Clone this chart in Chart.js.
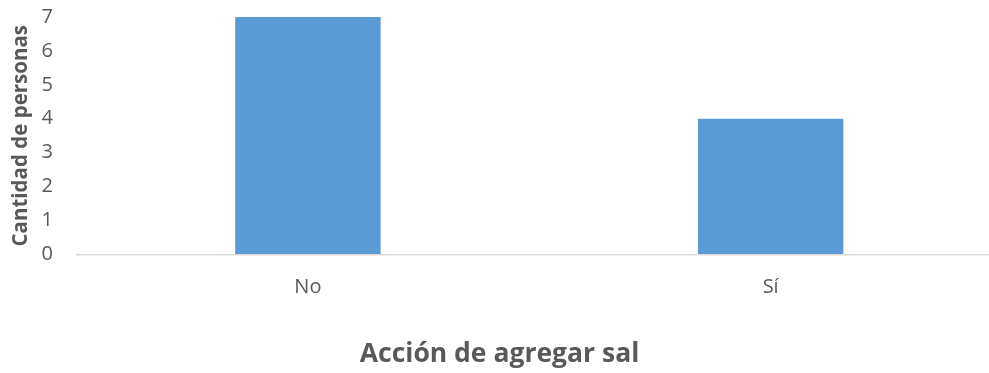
<!DOCTYPE html>
<html>
<head>
<meta charset="utf-8">
<script src="https://cdn.jsdelivr.net/npm/chart.js@4/dist/chart.umd.min.js"></script>
<style>
  html, body { margin: 0; padding: 0; background: #ffffff; }
  #wrap { width: 989px; height: 373px; }
</style>
</head>
<body>
<div id="wrap"><canvas id="chart" width="989" height="373"></canvas></div>
<script>
// Categories and counts
const categories = ['No', 'Sí'];
const personas = [7, 4];
const yTicks = [0, 1, 2, 3, 4, 5, 6, 7];

const FONT = "'Open Sans', 'Liberation Sans', sans-serif";
const GREY = '#595959';
const PLOT_RIGHT = 1002; // the plot area runs past the canvas edge

// Stretch the category axis (and the plot area) beyond the right edge of the canvas
const extendPlotRight = {
  id: 'extendPlotRight',
  afterLayout(chart) {
    const x = chart.scales.x;
    x.right = PLOT_RIGHT;
    x.width = x.right - x.left;
    x.configure();
    chart.chartArea.right = PLOT_RIGHT;
    chart.chartArea.width = chart.chartArea.right - chart.chartArea.left;
  }
};

new Chart(document.getElementById('chart'), {
  type: 'bar',
  data: {
    labels: categories,
    datasets: [{
      data: personas,
      backgroundColor: '#5b9bd5',
      borderWidth: 0,
      categoryPercentage: 0.3143,
      barPercentage: 1.0
    }]
  },
  plugins: [extendPlotRight],
  options: {
    responsive: false,
    animation: false,
    layout: { padding: { top: 17, right: -13, bottom: 0, left: -3 } },
    plugins: {
      legend: { display: false },
      tooltip: { enabled: false },
      // category-axis title, centred on the whole chart width
      title: {
        display: true,
        position: 'bottom',
        text: 'Acción de agregar sal',
        color: GREY,
        font: { family: FONT, size: 26.5, weight: 'bold' },
        padding: { top: 19.3, bottom: 2.4 }
      }
    },
    scales: {
      x: {
        grid: { display: false, drawTicks: false },
        border: { display: true, color: '#d9d9d9', width: 1.5 },
        ticks: { color: GREY, font: { family: FONT, size: 20 }, padding: 20.5 }
      },
      y: {
        min: 0,
        max: 7,
        afterBuildTicks: (axis) => { axis.ticks = yTicks.map(v => ({ value: v })); },
        // invisible tick marks: their length spaces the labels off the plot
        grid: { display: true, drawOnChartArea: false, drawTicks: true, tickLength: 23.5, color: 'rgba(0,0,0,0)' },
        border: { display: false },
        ticks: { color: GREY, font: { family: FONT, size: 20 }, padding: 0, autoSkip: false },
        title: {
          display: true,
          text: 'Cantidad de personas',
          color: GREY,
          font: { family: FONT, size: 20.5, weight: 'bold' },
          padding: { top: 11.7, bottom: 8.3 }
        }
      }
    }
  }
});
</script>
</body>
</html>
